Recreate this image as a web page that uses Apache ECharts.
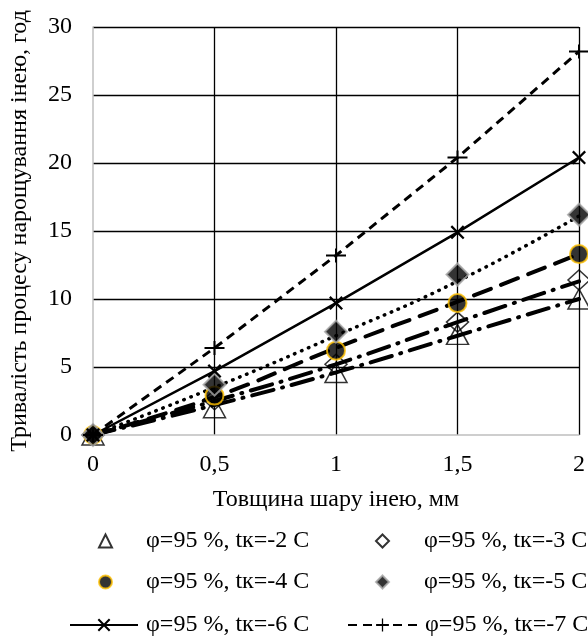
<!DOCTYPE html>
<html>
<head>
<meta charset="utf-8">
<script src="https://cdn.jsdelivr.net/npm/echarts@6/dist/echarts.min.js"></script>
<style>html,body{margin:0;padding:0;background:#fff}#c{width:588px;height:638px}</style>
</head>
<body>
<div id="c"></div>
<script>
// Data
var xValues = [0, 0.5, 1, 1.5, 2];
var names = ['φ=95 %, tк=-2 C','φ=95 %, tк=-3 C','φ=95 %, tк=-4 C','φ=95 %, tк=-5 C','φ=95 %, tк=-6 C','φ=95 %, tк=-7 C'];
var s2 = [0, 2.0, 4.6, 7.4, 10.0];
var s3 = [0, 2.6, 5.2, 8.3, 11.4];
var s4 = [0, 2.9, 6.2, 9.7, 13.3];
var s5 = [0, 3.7, 7.6, 11.8, 16.2];
var s6 = [0, 4.7, 9.7, 14.9, 20.4];
var s7 = [0, 6.4, 13.2, 20.4, 28.2];
// Trend lines
var t2 = [0, 2.2, 4.6, 7.3, 10.0];
var t3 = [0, 2.5, 5.2, 8.3, 11.3];
var t4 = [0, 2.8, 6.4, 9.8, 13.3];
var t5 = [0, 3.5, 7.3, 11.3, 16.1];
var yTicks = [0, 5, 10, 15, 20, 25, 30];

function pts(arr){ return xValues.map(function(x,i){ return [x, arr[i]]; }); }

var FONT = 'Liberation Serif';
var FS = 24;
var xPath = 'path://M0,1.6L1.6,0L7,5.4L12.4,0L14,1.6L8.6,7L14,12.4L12.4,14L7,8.6L1.6,14L0,12.4L5.4,7Z';
var plusPath = 'path://M0,6H20V8H0Z M9,0H11V14H9Z';

function trend(arr, type, width){
  return { type:'line', data:pts(arr), smooth:true, symbol:'none', silent:true, z:2,
    lineStyle:{color:'#000', width:width, type:type, cap:'round'} };
}
function lg(name, left, top, w, h, pad){
  return { data:[name], left:left, top:top, itemWidth:w, itemHeight:h, selectedMode:false, padding:0,
    textStyle:{fontFamily:FONT, fontSize:FS, color:'#000', lineHeight:26, padding:[0,0,0,pad]} };
}

var chart = echarts.init(document.getElementById('c'), null, {renderer:'canvas'});
chart.setOption({
  animation:false,
  backgroundColor:'#fff',
  grid:{left:93, right:9, top:27, bottom:203},
  xAxis:{type:'value', min:0, max:2, interval:0.5,
    axisLine:{show:true, onZero:false, lineStyle:{color:'#BFBFBF', width:1.5}},
    axisTick:{show:false},
    axisLabel:{fontFamily:FONT, fontSize:FS, color:'#000', margin:18,
      formatter:function(v){ return String(v).replace('.', ','); }},
    splitLine:{show:true, showMinLine:false, lineStyle:{color:'#000', width:1.3}},
    name:'Товщина шару інею, мм', nameLocation:'middle', nameGap:53,
    nameTextStyle:{fontFamily:FONT, fontSize:FS, color:'#000'}
  },
  yAxis:{type:'value', min:0, max:30, interval:5,
    axisLine:{show:true, lineStyle:{color:'#BFBFBF', width:1.5}},
    axisTick:{show:false},
    axisLabel:{fontFamily:FONT, fontSize:FS, color:'#000', margin:21,
      formatter:function(v){ return yTicks.indexOf(v) >= 0 ? String(v) : ''; }},
    splitLine:{show:true, showMinLine:false, lineStyle:{color:'#000', width:1.3}},
    name:'Тривалість процесу нарощування інею, год', nameLocation:'middle', nameGap:61,
    nameTextStyle:{fontFamily:FONT, fontSize:FS, color:'#000'}
  },
  legend:[
    lg(names[0], 98, 528, 13, 13, 29),
    lg(names[1], 375, 528, 13, 13, 30),
    lg(names[2], 98, 569, 13, 13, 29),
    lg(names[3], 375, 569, 13, 13, 30),
    lg(names[4], 69, 612, 68, 16, 3),
    lg(names[5], 347, 612, 69, 16, 3)
  ],
  series:[
    trend(t2, [22,9,1,9], 4),
    trend(t3, [22,9,1,9], 4),
    trend(t4, [18,11], 4),
    trend(t5, [0.5,7], 3.5),
    { name:names[0], type:'scatter', data:pts(s2), symbol:'triangle', symbolSize:[22,20], z:3,
      itemStyle:{color:'rgba(0,0,0,0)', borderColor:'#000', borderWidth:1.5} },
    { name:names[1], type:'scatter', data:pts(s3), symbol:'diamond', symbolSize:[22,20], z:3,
      itemStyle:{color:'rgba(0,0,0,0)', borderColor:'#000', borderWidth:1.5} },
    { name:names[2], type:'scatter', data:pts(s4), symbol:'circle', symbolSize:18, z:3,
      itemStyle:{color:'#000', borderColor:'#FFC000', borderWidth:2} },
    { name:names[3], type:'scatter', data:pts(s5), symbol:'diamond', symbolSize:22, z:3,
      itemStyle:{color:'#000', borderColor:'#A6A6A6', borderWidth:2} },
    { name:names[4], type:'line', data:pts(s6), symbol:xPath, symbolSize:14, showAllSymbol:true, z:3,
      lineStyle:{color:'#000', width:2.5}, itemStyle:{color:'#000', borderWidth:0} },
    { name:names[5], type:'line', data:pts(s7), symbol:plusPath, symbolSize:[20,14], showAllSymbol:true, z:3,
      lineStyle:{color:'#000', width:3, type:[9,6]}, itemStyle:{color:'#000', borderWidth:0} }
  ]
});
</script>
</body>
</html>
